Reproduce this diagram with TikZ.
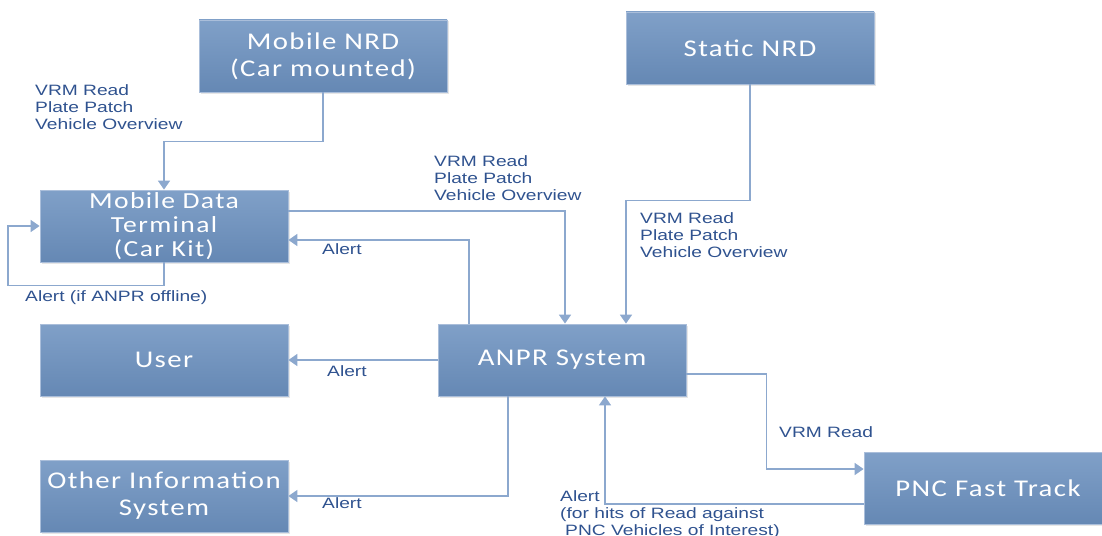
\documentclass[tikz,border=0pt]{standalone}
\usepackage{fontspec}
\usepackage{xcolor}
\usepackage{tikz}
\usetikzlibrary{arrows.meta}
\usetikzlibrary{positioning}
\usetikzlibrary{shadows}
\newfontfamily\boxfont[FakeStretch=1.2, LetterSpace=6]{Carlito}
\newfontfamily\lblfont[FakeStretch=1.28]{Liberation Sans}
\definecolor{boxtop}{RGB}{128,160,200}
\definecolor{boxbot}{RGB}{101,136,180}
\definecolor{boxedge}{RGB}{170,190,218}
\definecolor{flowcol}{RGB}{140,168,206}
\definecolor{lblcol}{RGB}{47,82,143}
\tikzset{>={Triangle[width=12pt,length=9pt]}}
\tikzstyle{sysbox} = [rectangle, draw=boxedge, line width=0.8pt, top color=boxtop, bottom color=boxbot,
  minimum width=248pt, minimum height=72pt, align=center, text=white, inner sep=0,
  font=\boxfont\fontsize{24}{27}\selectfont, drop shadow={opacity=0.2, shadow xshift=1.5pt, shadow yshift=-1.5pt}]
\tikzstyle{flow} = [->, draw=flowcol, line width=1.6pt, color=flowcol]
\tikzstyle{lbl} = [draw=none, anchor=north west, inner sep=0, align=left, text=lblcol,
  font=\lblfont\fontsize{15}{17}\selectfont]

\begin{document}
\begin{tikzpicture}[x=1pt, y=-1pt]
\useasboundingbox (0,0) rectangle (1102,535);
% systems
\node [sysbox] (mnrd) at (323, 56) {Mobile NRD\\(Car mounted)};
\node [sysbox] (snrd) at (750, 48) {Static NRD};
\node [sysbox, font=\boxfont\fontsize{23}{24}\selectfont] (mdt) at (164, 226) {Mobile Data\\Terminal\\(Car Kit)};
\node [sysbox] (user) at (164, 360) {User};
\node [sysbox] (ois)  at (164, 496) {Other Information\\System};
\node [sysbox] (anpr) at (562, 360) {ANPR System};
\node [sysbox] (pnc)  at (988, 488) {PNC Fast Track};
% connectors
\draw [flow] (mnrd.south) -- ++(0,49) -| (mdt.north);
\draw [flow] ([yshift=15pt]mdt.east) -| ([xshift=3pt]anpr.north);
\draw [flow] ([xshift=-93pt]anpr.north) |- ([yshift=-14pt]mdt.east);
\draw [flow] (mdt.south) -- ++(0,23) -- ++(-156,0) |- (mdt.west);
\draw [flow] (snrd.south) -- ++(0,116) -| ([xshift=64pt]anpr.north);
\draw [flow] (anpr.west) -- (user.east);
\draw [flow] ([xshift=-54pt]anpr.south) |- (ois.east);
\draw [flow] ([yshift=-14pt]anpr.east) -- ++(80,0) |- ([yshift=19pt]pnc.west);
\draw [flow] ([yshift=-16pt]pnc.west) -| ([xshift=43pt]anpr.south);
% labels
\node [lbl] (l-mnrd) at (35, 84) {VRM Read\\Plate Patch\\Vehicle Overview};
\node [lbl] (l-mdt)  at (434, 155) {VRM Read\\Plate Patch\\Vehicle Overview};
\node [lbl] (l-snrd) at (640, 212) {VRM Read\\Plate Patch\\Vehicle Overview};
\node [lbl] (l-amdt) at (322, 243) {Alert};
\node [lbl] (l-self) at (25, 290) {Alert (if ANPR offline)};
\node [lbl] (l-user) at (327, 365) {Alert};
\node [lbl] (l-ois)  at (322, 497) {Alert};
\node [lbl] (l-pnc)  at (779, 426) {VRM Read};
\node [lbl] (l-hit)  at (560, 490) {Alert\\(for hits of Read against\\\hspace{5pt}PNC Vehicles of Interest)};
\end{tikzpicture}
\end{document}
